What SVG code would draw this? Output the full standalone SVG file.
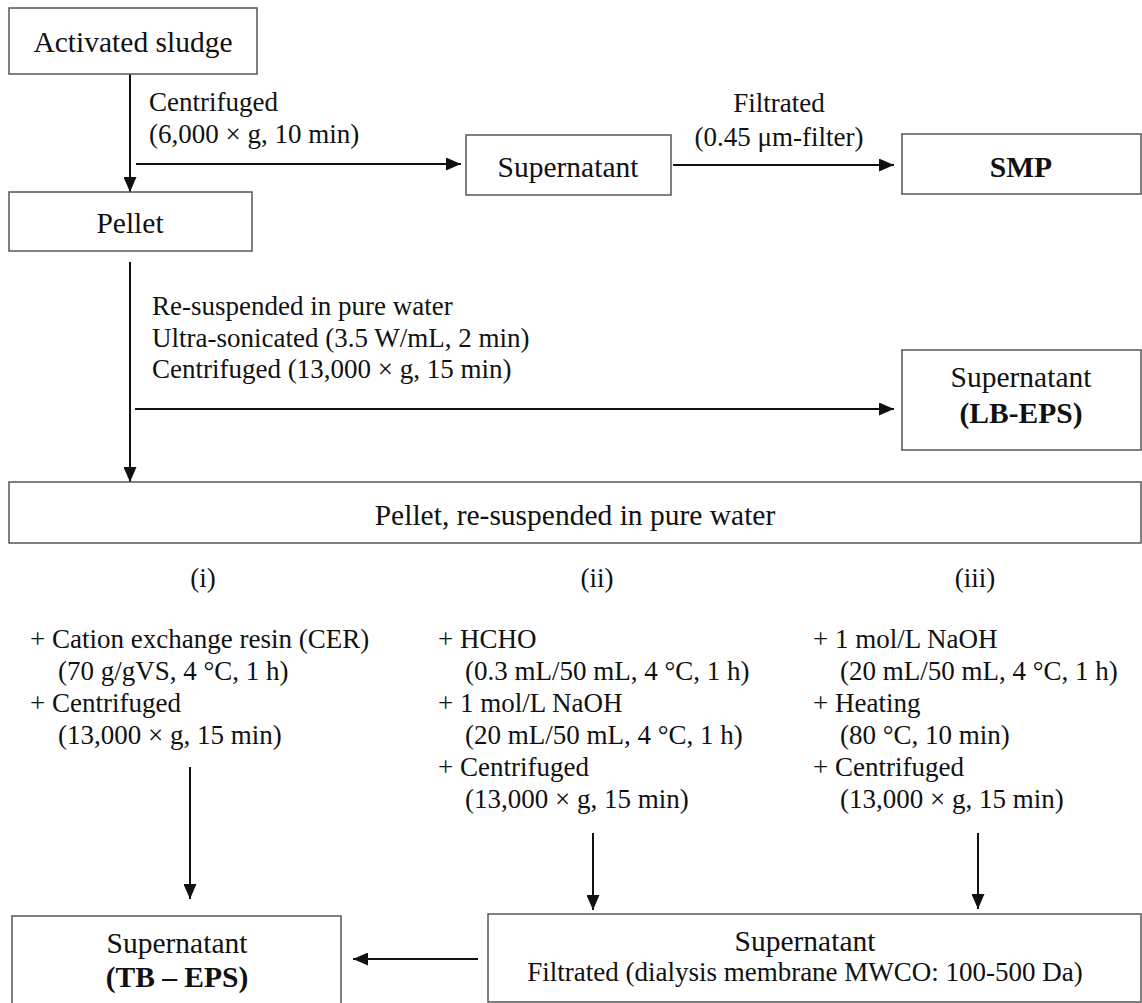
<svg xmlns="http://www.w3.org/2000/svg" width="1142" height="1003" viewBox="0 0 1142 1003">
<defs>
<style>
.box{fill:#fff;stroke:#555;stroke-width:1.5}
.nt{font-family:"Liberation Serif","Times New Roman",serif;font-size:29.5px;fill:#111;text-anchor:middle}
.b{font-weight:bold}
.lb{font-family:"Liberation Serif","Times New Roman",serif;font-size:27px;fill:#111}
.mid{text-anchor:middle}
.cn{stroke:#111;stroke-width:2;fill:none;marker-end:url(#ah)}
</style>
<marker id="ah" markerUnits="userSpaceOnUse" markerWidth="15" markerHeight="13" viewBox="0 0 15 13" refX="15" refY="6.5" orient="auto">
<path d="M0,0 L15,6.5 L0,13 z" fill="#111"/>
</marker>
</defs>
<rect width="1142" height="1003" fill="#fff"/>
<g id="connectors">
<line class="cn" x1="130" y1="74" x2="130" y2="192"/>
<line class="cn" x1="136" y1="164" x2="461" y2="164"/>
<line class="cn" x1="673" y1="165" x2="894" y2="165"/>
<line class="cn" x1="130" y1="262" x2="130" y2="482"/>
<line class="cn" x1="135" y1="409" x2="894" y2="409"/>
<line class="cn" x1="190" y1="767" x2="190" y2="899"/>
<line class="cn" x1="593" y1="833" x2="593" y2="910"/>
<line class="cn" x1="978" y1="833" x2="978" y2="909"/>
<line class="cn" x1="478" y1="959" x2="353" y2="959"/>
</g>
<g id="labels">
<text class="lb" x="149" y="111">Centrifuged</text>
<text class="lb" x="149" y="143">(6,000 × g, 10 min)</text>
<text class="lb mid" x="779" y="112">Filtrated</text>
<text class="lb mid" x="779" y="146">(0.45 μm-filter)</text>
<text class="lb" x="152" y="315">Re-suspended in pure water</text>
<text class="lb" x="152" y="347">Ultra-sonicated (3.5 W/mL, 2 min)</text>
<text class="lb" x="152" y="378">Centrifuged (13,000 × g, 15 min)</text>
<text class="lb mid" x="203" y="587">(i)</text>
<text class="lb mid" x="597" y="587">(ii)</text>
<text class="lb mid" x="975" y="587">(iii)</text>
</g>
<g id="branch-i">
<text class="lb" x="30" y="648">+ Cation exchange resin (CER)</text>
<text class="lb" x="58" y="680">(70 g/gVS, 4 °C, 1 h)</text>
<text class="lb" x="30" y="712">+ Centrifuged</text>
<text class="lb" x="58" y="744">(13,000 × g, 15 min)</text>
</g>
<g id="branch-ii">
<text class="lb" x="438" y="648">+ HCHO</text>
<text class="lb" x="465" y="680">(0.3 mL/50 mL, 4 °C, 1 h)</text>
<text class="lb" x="438" y="712">+ 1 mol/L NaOH</text>
<text class="lb" x="465" y="744">(20 mL/50 mL, 4 °C, 1 h)</text>
<text class="lb" x="438" y="776">+ Centrifuged</text>
<text class="lb" x="465" y="808">(13,000 × g, 15 min)</text>
</g>
<g id="branch-iii">
<text class="lb" x="813" y="648">+ 1 mol/L NaOH</text>
<text class="lb" x="840" y="680">(20 mL/50 mL, 4 °C, 1 h)</text>
<text class="lb" x="813" y="712">+ Heating</text>
<text class="lb" x="840" y="744">(80 °C, 10 min)</text>
<text class="lb" x="813" y="776">+ Centrifuged</text>
<text class="lb" x="840" y="808">(13,000 × g, 15 min)</text>
</g>
<g id="n-sludge">
<rect class="box" x="9" y="8" width="248" height="66"/>
<text class="nt" x="133" y="52">Activated sludge</text>
</g>
<g id="n-pellet">
<rect class="box" x="9" y="192" width="243" height="59"/>
<text class="nt" x="130" y="233">Pellet</text>
</g>
<g id="n-supernatant">
<rect class="box" x="466" y="135" width="205" height="60"/>
<text class="nt" x="568" y="177">Supernatant</text>
</g>
<g id="n-smp">
<rect class="box" x="902" y="134" width="239" height="60"/>
<text class="nt b" x="1021" y="177">SMP</text>
</g>
<g id="n-lbeps">
<rect class="box" x="902" y="350" width="239" height="100"/>
<text class="nt" x="1021" y="387">Supernatant</text>
<text class="nt b" x="1021" y="423">(LB-EPS)</text>
</g>
<g id="n-pellet2">
<rect class="box" x="9" y="482" width="1132" height="61"/>
<text class="nt" x="575" y="525">Pellet, re-suspended in pure water</text>
</g>
<g id="n-tbeps">
<rect class="box" x="12" y="916" width="329" height="90"/>
<text class="nt" x="177" y="953">Supernatant</text>
<text class="nt b" x="177" y="987">(TB – EPS)</text>
</g>
<g id="n-dialysis">
<rect class="box" x="488" y="914" width="653" height="88"/>
<text class="nt" x="805" y="951">Supernatant</text>
<text class="lb mid" x="805" y="981">Filtrated (dialysis membrane MWCO: 100-500 Da)</text>
</g>
</svg>
